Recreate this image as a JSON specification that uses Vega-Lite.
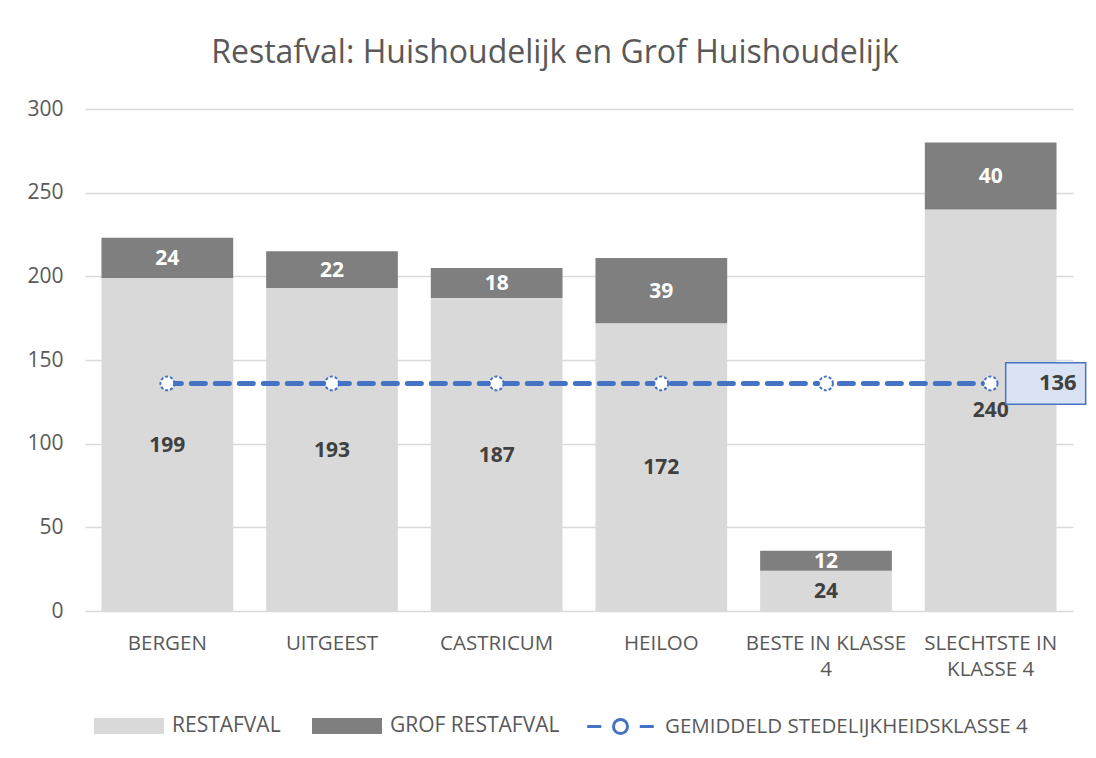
{
  "$schema": "https://vega.github.io/schema/vega-lite/v6.json",
  "width": 988,
  "height": 502,
  "autosize": {"type": "none"},
  "padding": {"left": 85, "top": 109, "right": 23, "bottom": 147},
  "background": "white",
  "config": {
    "font": "Open Sans",
    "view": {"stroke": null},
    "axis": {"labelFont": "Open Sans", "labelColor": "#595959", "gridColor": "#D9D9D9", "gridWidth": 1.3, "domain": false, "ticks": false}
  },
  "title": {
    "text": "Restafval: Huishoudelijk en Grof Huishoudelijk",
    "fontSize": 32,
    "fontWeight": "normal",
    "font": "Open Sans",
    "color": "#595959",
    "anchor": "middle",
    "dx": -24,
    "offset": 28
  },
  "datasets": {
    "bars": [
      {"cat": "BERGEN", "serie": "RESTAFVAL", "value": 199},
      {"cat": "BERGEN", "serie": "GROF RESTAFVAL", "value": 24},
      {"cat": "UITGEEST", "serie": "RESTAFVAL", "value": 193},
      {"cat": "UITGEEST", "serie": "GROF RESTAFVAL", "value": 22},
      {"cat": "CASTRICUM", "serie": "RESTAFVAL", "value": 187},
      {"cat": "CASTRICUM", "serie": "GROF RESTAFVAL", "value": 18},
      {"cat": "HEILOO", "serie": "RESTAFVAL", "value": 172},
      {"cat": "HEILOO", "serie": "GROF RESTAFVAL", "value": 39},
      {"cat": "BESTE IN KLASSE 4", "serie": "RESTAFVAL", "value": 24},
      {"cat": "BESTE IN KLASSE 4", "serie": "GROF RESTAFVAL", "value": 12},
      {"cat": "SLECHTSTE IN KLASSE 4", "serie": "RESTAFVAL", "value": 240},
      {"cat": "SLECHTSTE IN KLASSE 4", "serie": "GROF RESTAFVAL", "value": 40}
    ],
    "avg": [
      {"cat": "BERGEN", "serie": "GEMIDDELD STEDELIJKHEIDSKLASSE 4", "value": 136},
      {"cat": "UITGEEST", "serie": "GEMIDDELD STEDELIJKHEIDSKLASSE 4", "value": 136},
      {"cat": "CASTRICUM", "serie": "GEMIDDELD STEDELIJKHEIDSKLASSE 4", "value": 136},
      {"cat": "HEILOO", "serie": "GEMIDDELD STEDELIJKHEIDSKLASSE 4", "value": 136},
      {"cat": "BESTE IN KLASSE 4", "serie": "GEMIDDELD STEDELIJKHEIDSKLASSE 4", "value": 136},
      {"cat": "SLECHTSTE IN KLASSE 4", "serie": "GEMIDDELD STEDELIJKHEIDSKLASSE 4", "value": 136}
    ]
  },
  "encoding": {
    "x": {
      "field": "cat",
      "type": "nominal",
      "sort": ["BERGEN", "UITGEEST", "CASTRICUM", "HEILOO", "BESTE IN KLASSE 4", "SLECHTSTE IN KLASSE 4"],
      "scale": {"paddingInner": 0.2, "paddingOuter": 0.1},
      "axis": {
        "title": null,
        "labelAngle": 0,
        "labelFontSize": 20.5,
        "labelPadding": 22,
        "labelLineHeight": 26,
        "labelLimit": 300,
        "labelBaseline": "top",
        "labelExpr": "datum.value == 'BESTE IN KLASSE 4' ? ['BESTE IN KLASSE', '4'] : datum.value == 'SLECHTSTE IN KLASSE 4' ? ['SLECHTSTE IN', 'KLASSE 4'] : datum.value"
      }
    }
  },
  "layer": [
    {
      "data": {"name": "bars"},
      "transform": [
        {"stack": "value", "groupby": ["cat"], "sort": [{"field": "serie", "order": "descending"}], "as": ["v0", "v1"]}
      ],
      "mark": {"type": "bar"},
      "encoding": {
        "y": {
          "field": "v0",
          "type": "quantitative",
          "scale": {"domain": [0, 300], "nice": false},
          "axis": {"title": null, "values": [0, 50, 100, 150, 200, 250, 300], "labelFontSize": 21, "labelPadding": 22}
        },
        "y2": {"field": "v1"},
        "color": {
          "field": "serie",
          "type": "nominal",
          "scale": {"domain": ["RESTAFVAL", "GROF RESTAFVAL"], "range": ["#D9D9D9", "#7F7F7F"]},
          "legend": {
            "orient": "none",
            "legendX": 8,
            "legendY": 581,
            "direction": "horizontal",
            "title": null,
            "labelFont": "Open Sans",
            "labelFontSize": 21,
            "labelColor": "#595959",
            "labelLimit": 600,
            "labelOffset": 7,
            "columnPadding": 30,
            "symbolSize": 4900,
            "symbolType": "M-1,-0.23L1,-0.23L1,0.23L-1,0.23Z",
            "symbolOpacity": 1
          }
        }
      }
    },
    {
      "data": {"name": "bars"},
      "transform": [
        {"stack": "value", "groupby": ["cat"], "sort": [{"field": "serie", "order": "descending"}], "as": ["v0", "v1"]},
        {"calculate": "(datum.v0 + datum.v1) / 2", "as": "mid"}
      ],
      "mark": {"type": "text", "fontSize": 21, "fontWeight": "bold", "font": "Open Sans", "baseline": "middle", "dy": 1},
      "encoding": {
        "y": {"field": "mid", "type": "quantitative"},
        "text": {"field": "value", "type": "quantitative"},
        "color": {
          "condition": {"test": "datum.serie === 'GROF RESTAFVAL'", "value": "white"},
          "value": "#404040"
        }
      }
    },
    {
      "data": {"name": "avg"},
      "mark": {"type": "line", "strokeWidth": 5, "strokeDash": [14, 10], "strokeCap": "round"},
      "encoding": {
        "y": {"field": "value", "type": "quantitative"},
        "stroke": {
          "field": "serie",
          "type": "nominal",
          "scale": {"domain": ["GEMIDDELD STEDELIJKHEIDSKLASSE 4"], "range": ["#4472C4"]},
          "legend": {
            "orient": "none",
            "legendX": 499,
            "legendY": 581,
            "direction": "horizontal",
            "title": null,
            "labelFont": "Open Sans",
            "labelFontSize": 20.5,
            "labelColor": "#595959",
            "labelLimit": 600,
            "labelOffset": 8,
            "symbolSize": 4900,
            "symbolType": "M-0.95,0L-0.55,0M0.55,0L0.95,0M0.2,0A0.2,0.2 0 1,1 -0.2,0A0.2,0.2 0 1,1 0.2,0Z",
            "symbolFillColor": "white",
            "symbolStrokeColor": "#4472C4",
            "symbolStrokeWidth": 3,
            "symbolOpacity": 1
          }
        }
      }
    },
    {
      "data": {"name": "avg"},
      "mark": {"type": "point", "shape": "circle", "filled": true, "fill": "white", "stroke": "#4472C4", "strokeWidth": 2, "strokeDash": [3, 2], "size": 190, "opacity": 1},
      "encoding": {
        "y": {"field": "value", "type": "quantitative"}
      }
    },
    {
      "data": {"name": "avg"},
      "transform": [{"filter": "datum.cat === 'SLECHTSTE IN KLASSE 4'"}],
      "mark": {"type": "point", "shape": "M-1,-0.52L1,-0.52L1,0.52L-1,0.52Z", "size": 6400, "filled": true, "fill": "#DAE3F3", "stroke": "#4472C4", "strokeWidth": 1.5, "opacity": 1, "xOffset": 55},
      "encoding": {
        "y": {"field": "value", "type": "quantitative"}
      }
    },
    {
      "data": {"name": "avg"},
      "transform": [{"filter": "datum.cat === 'SLECHTSTE IN KLASSE 4'"}],
      "mark": {"type": "text", "fontSize": 22, "fontWeight": "bold", "font": "Open Sans", "align": "right", "baseline": "middle", "dx": 86, "color": "#404040"},
      "encoding": {
        "y": {"field": "value", "type": "quantitative"},
        "text": {"field": "value", "type": "quantitative"}
      }
    }
  ]
}
